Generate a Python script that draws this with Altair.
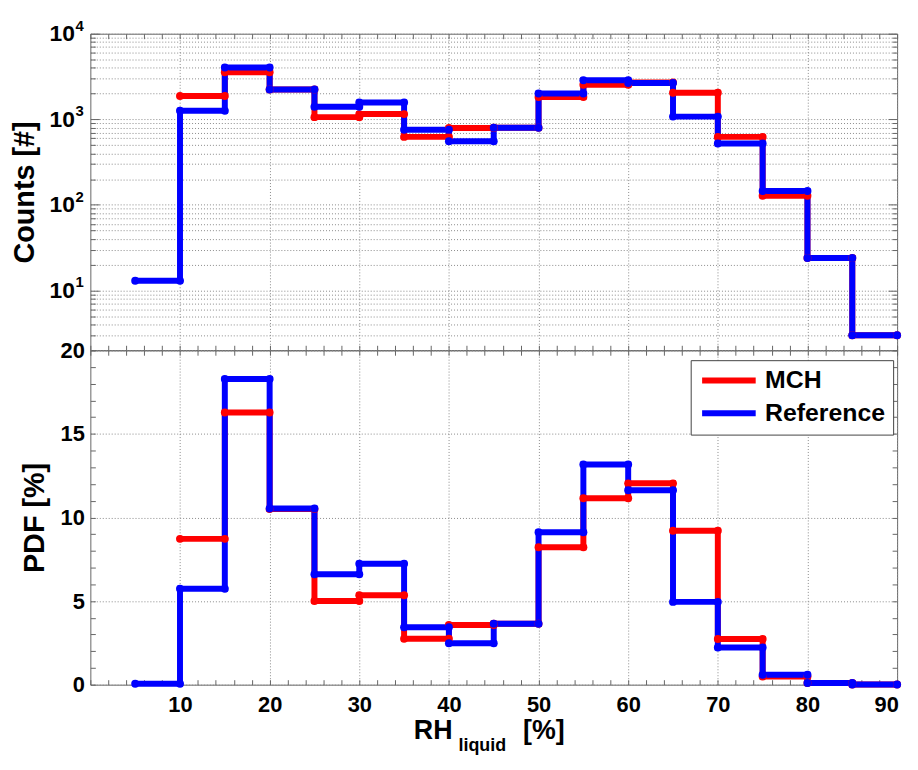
import altair as alt
import pandas as pd

# ---------------- data ----------------
edges = [5, 10, 15, 20, 25, 30, 35, 40, 45, 50, 55, 60, 65, 70, 75, 80, 85, 90]
series_names = ["MCH", "Reference"]
mch_counts = [None, 1870, 3540, 2230, 1060, 1150, 623, 790, 795, 1820, 2530, 2700, 2040, 623, 128, 24, 3]
ref_counts = [13, 1260, 4030, 2230, 1400, 1570, 753, 554, 795, 2000, 2860, 2660, 1075, 520, 145, 24, 3]
mch_pdf = [None, 8.72, 16.28, 10.5, 5.0, 5.35, 2.75, 3.57, 3.64, 8.22, 11.15, 12.04, 9.2, 2.73, 0.49, 0.1, 0.01]
ref_pdf = [0.06, 5.74, 18.28, 10.54, 6.6, 7.23, 3.43, 2.48, 3.64, 9.11, 13.17, 11.63, 4.95, 2.22, 0.59, 0.1, 0.01]

x_major = [10, 20, 30, 40, 50, 60, 70, 80, 90]
x_minor = list(range(0, 92, 2))
count_decades = [10, 100, 1000, 10000]
count_exponents = ["1", "2", "3", "4"]
log_vals = [m * 10 ** e for e in range(0, 4) for m in range(1, 10) if m * 10 ** e >= 2] + [10000]
pdf_major = [0, 5, 10, 15, 20]
pdf_minor = list(range(0, 21))


def steps(values, name):
    rows = []
    k = 0
    for i, v in enumerate(values):
        if v is None:
            continue
        rows.append({"x": edges[i], "v": v, "series": name, "order": k})
        rows.append({"x": edges[i + 1], "v": v, "series": name, "order": k + 1})
        k += 2
    return rows


df_counts = pd.DataFrame(steps(mch_counts, "MCH") + steps(ref_counts, "Reference"))
df_pdf = pd.DataFrame(steps(mch_pdf, "MCH") + steps(ref_pdf, "Reference"))
df_exp = pd.DataFrame({"v": count_decades, "t": count_exponents})

# ---------------- styling ----------------
W, H1, H2 = 813, 319, 337
FONT = "Liberation Sans"
FRAME = "#666666"
GRID = "#8a8a8a"
xs = alt.Scale(domain=[0, 90], nice=False, zero=False)
ys_top = alt.Scale(type="log", domain=[2, 10000], nice=False)
ys_bot = alt.Scale(domain=[0, 20], nice=False, zero=False)
color_scale = alt.Scale(domain=series_names, range=["#ff0000", "#0000ff"])
decade_test = "indexof([10,100,1000,10000], datum.value) >= 0"


def tick_axis(orient, offset, values, size=5):
    return alt.Axis(orient=orient, offset=offset, values=values, labels=False, grid=False,
                    domain=False, ticks=True, tickSize=size, tickColor=FRAME, tickWidth=1,
                    title=None, minExtent=0)


# ---------------- top panel (counts, log) ----------------
top_line = alt.Chart(df_counts).mark_line(strokeWidth=6).encode(
    x=alt.X("x:Q", scale=xs, axis=alt.Axis(orient="bottom", values=x_major, labels=False,
                                           ticks=False, domain=False, grid=True, title=None,
                                           gridColor=GRID, gridDash=[1, 2])),
    y=alt.Y("v:Q", scale=ys_top, axis=alt.Axis(
        orient="left", values=log_vals,
        labelExpr=decade_test + " ? '10' : ''",
        labelOverlap=False, ticks=False, tickSize=0, domain=False, grid=True,
        gridColor=GRID, gridDash=[1, 2], labelPadding=16, labelFontSize=23,
        title="Counts [#]", titleX=-57, titleBaseline="alphabetic")),
    color=alt.Color("series:N", scale=color_scale, legend=None),
    order="order:Q",
)
top_pts = alt.Chart(df_counts).mark_circle(size=64, opacity=1).encode(
    x=alt.X("x:Q", scale=xs, axis=tick_axis("top", -H1, x_minor)),
    y=alt.Y("v:Q", scale=ys_top, axis=alt.Axis(
        orient="right", offset=-W, values=log_vals, labels=False, grid=False, domain=False,
        tickColor=FRAME, title=None, minExtent=0,
        tickSize={"condition": {"test": decade_test, "value": 9}, "value": 5})),
    color=alt.Color("series:N", scale=color_scale, legend=None),
)
top_ticks = alt.Chart(df_counts).mark_circle(opacity=0).encode(
    x=alt.X("x:Q", scale=xs, axis=tick_axis("bottom", -H1, x_minor)),
    y=alt.Y("v:Q", scale=ys_top, axis=alt.Axis(
        orient="left", offset=-W, values=log_vals, labels=False, grid=False, domain=False,
        tickColor=FRAME, title=None, minExtent=0,
        tickSize={"condition": {"test": decade_test, "value": 9}, "value": 5})),
)
top_exp = alt.Chart(df_exp).mark_text(align="left", baseline="middle", dy=-8, fontSize=15,
                                       fontWeight="bold", font=FONT, color="black").encode(
    y=alt.Y("v:Q", scale=ys_top, axis=None),
    x=alt.value(-15),
    text="t:N",
)
top = alt.layer(top_line, top_pts, top_ticks, top_exp).resolve_axis(
    x="independent", y="independent").properties(width=W, height=H1)

# ---------------- bottom panel (PDF) ----------------
legend = alt.Legend(orient="none", legendX=605, legendY=10, title=None,
                    symbolType="M-1,0H5", symbolSize=324, symbolStrokeWidth=6,
                    labelOffset=42, labelFont=FONT, labelFontSize=25, labelFontWeight="bold",
                    labelColor="black", padding=8, rowPadding=7, strokeColor="#444444",
                    fillColor="white", labelLimit=300)
bot_line = alt.Chart(df_pdf).mark_line(strokeWidth=6).encode(
    x=alt.X("x:Q", scale=xs, axis=alt.Axis(
        orient="bottom", values=x_major, labels=True, ticks=False, tickSize=0, domain=False,
        grid=True, gridColor=GRID, gridDash=[1, 2], labelPadding=10, labelFontSize=22,
        labelFlush=False,
        labelOffset={"condition": {"test": "datum.value >= 90", "value": -11}, "value": 0},
        title=None)),
    y=alt.Y("v:Q", scale=ys_bot, axis=alt.Axis(
        orient="left", values=pdf_major, ticks=False, tickSize=0, domain=False, grid=True,
        gridColor=GRID, gridDash=[1, 2], labelPadding=6, labelFontSize=22,
        title="PDF [%]", titleX=-47, titleBaseline="alphabetic")),
    color=alt.Color("series:N", scale=color_scale, legend=legend),
    order="order:Q",
)
bot_pts = alt.Chart(df_pdf).mark_circle(size=64, opacity=1).encode(
    x=alt.X("x:Q", scale=xs, axis=tick_axis("top", -H2, x_minor)),
    y=alt.Y("v:Q", scale=ys_bot, axis=tick_axis("right", -W, pdf_minor)),
    color=alt.Color("series:N", scale=color_scale, legend=legend),
)
bot_ticks = alt.Chart(df_pdf).mark_circle(opacity=0).encode(
    x=alt.X("x:Q", scale=xs, axis=tick_axis("bottom", -H2, x_minor)),
    y=alt.Y("v:Q", scale=ys_bot, axis=tick_axis("left", -W, pdf_minor)),
)
title_big = dict(font=FONT, fontWeight="bold", color="black", align="left", baseline="alphabetic")
t_rh = alt.Chart(pd.DataFrame({"t": ["RH"]})).mark_text(fontSize=27, **title_big).encode(
    x=alt.value(326), y=alt.value(392), text="t:N")
t_sub = alt.Chart(pd.DataFrame({"t": ["liquid"]})).mark_text(fontSize=18, **title_big).encode(
    x=alt.value(371), y=alt.value(404), text="t:N")
t_pct = alt.Chart(pd.DataFrame({"t": ["[%]"]})).mark_text(fontSize=27, **title_big).encode(
    x=alt.value(436), y=alt.value(392), text="t:N")

bottom = alt.layer(bot_line, bot_pts, bot_ticks, t_rh, t_sub, t_pct).resolve_axis(
    x="independent", y="independent").properties(width=W, height=H2)

chart = alt.vconcat(top, bottom, spacing=0, bounds="flush").resolve_legend(
    color="independent").properties(
    padding={"left": 2, "top": 7, "right": 0, "bottom": 0}
).configure_view(stroke=FRAME, strokeWidth=1).configure_axis(
    labelFont=FONT, labelFontWeight="bold", labelColor="black",
    titleFont=FONT, titleFontWeight="bold", titleFontSize=29, titleColor="black",
)

chart.save("out.html", embed_options={"renderer": "svg", "actions": False})
